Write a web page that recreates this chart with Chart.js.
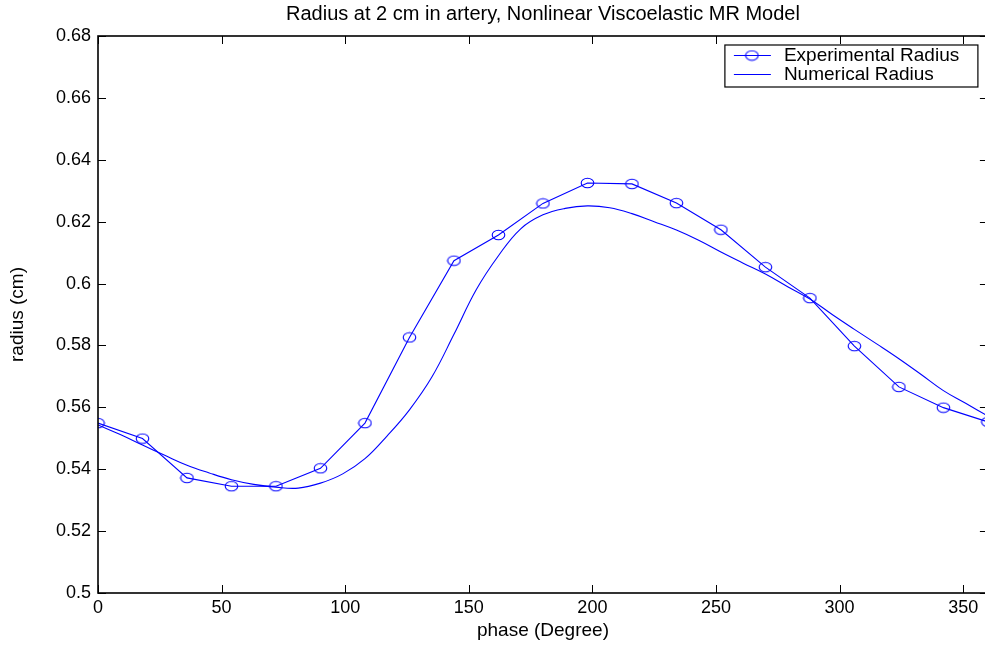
<!DOCTYPE html>
<html lang="en">
<head>
<meta charset="UTF-8">
<title>Radius at 2 cm in artery</title>
<script src="https://cdn.jsdelivr.net/npm/chart.js"></script>
<style>
  body { margin: 0; background: #fff; overflow: hidden; }
</style>
</head>
<body>
<canvas id="graficoRaio" width="995" height="647"></canvas>

<script>
// pontos medidos (circulos)
const phaseExp = [0, 18, 36, 54, 72, 90, 108, 126, 144, 162, 180, 198, 216, 234, 252, 270, 288, 306, 324, 342, 360];
const radiusExp = [0.5549, 0.5499, 0.5372, 0.5345, 0.5345, 0.5403, 0.5549, 0.5826, 0.6074, 0.6157, 0.6259, 0.6325, 0.6322, 0.6260, 0.6174, 0.6053, 0.5953, 0.5798, 0.5666, 0.5599, 0.5553];

// curva do modelo
const phaseNum = [0, 9, 18, 27, 36, 45, 54, 63, 72, 81, 90, 99, 108, 117, 126, 135, 144, 153, 162, 171, 180,
                  189, 198, 207, 216, 225, 234, 243, 252, 261, 270, 279, 288, 297, 306, 315, 324, 333, 342, 351, 360];
const radiusNum = [0.5543, 0.5512, 0.5478, 0.5445, 0.5413, 0.5388, 0.5366, 0.5351, 0.5342, 0.5339, 0.5355, 0.5385, 0.5434, 0.5508, 0.5592, 0.5697, 0.5836, 0.5980, 0.6090, 0.6177, 0.6222,
                   0.6243, 0.6251, 0.6245, 0.6226, 0.6200, 0.6173, 0.6140, 0.6102, 0.6066, 0.6031, 0.5990, 0.5950, 0.5900, 0.5852, 0.5805, 0.5757, 0.5706, 0.5654, 0.5613, 0.5572];

const xTicks = [0, 50, 100, 150, 200, 250, 300, 350];
const yTicks = [0.5, 0.52, 0.54, 0.56, 0.58, 0.6, 0.62, 0.64, 0.66, 0.68];

const azul = '#0000ff';
const fonte = "'Liberation Sans', Arial, sans-serif";

// circulo achatado igual ao marcador 'o' do matlab
function criarMarcador() {
    const c = document.createElement('canvas');
    c.width = 15;
    c.height = 12;
    const g = c.getContext('2d');
    g.strokeStyle = azul;
    g.lineWidth = 1.1;
    g.beginPath();
    g.ellipse(7.5, 6, 6.3, 4.8, 0, 0, Math.PI * 2);
    g.stroke();
    return c;
}
const marcador = criarMarcador();

// caixa dos eixos com ticks para dentro + legenda
const caixaEixos = {
    id: 'caixaEixos',
    afterDraw(chart) {
        const ctx = chart.ctx;
        const area = chart.chartArea;
        const x = chart.scales.x;
        const y = chart.scales.y;
        const tam = 8;

        ctx.save();
        ctx.strokeStyle = '#000';
        ctx.lineWidth = 1;
        ctx.beginPath();
        x.ticks.forEach(function (t) {
            const px = Math.round(x.getPixelForValue(t.value)) + 0.5;
            ctx.moveTo(px, area.bottom);
            ctx.lineTo(px, area.bottom - tam);
            ctx.moveTo(px, area.top);
            ctx.lineTo(px, area.top + tam);
        });
        y.ticks.forEach(function (t) {
            const py = Math.round(y.getPixelForValue(t.value)) + 0.5;
            ctx.moveTo(area.left, py);
            ctx.lineTo(area.left + tam, py);
            ctx.moveTo(area.right, py);
            ctx.lineTo(area.right - tam, py);
        });
        ctx.stroke();

        ctx.lineWidth = 1.6;
        ctx.strokeRect(area.left, area.top, area.right - area.left, area.bottom - area.top);

        // legenda
        const lx = area.right - 263;
        const ly = area.top + 9;
        const lw = 253;
        const lh = 42;
        ctx.fillStyle = '#fff';
        ctx.fillRect(lx, ly, lw, lh);
        ctx.lineWidth = 1.2;
        ctx.strokeRect(lx, ly, lw, lh);

        const linhas = [chart.data.datasets[0], chart.data.datasets[1]];
        ctx.font = '19px ' + fonte;
        ctx.textBaseline = 'middle';
        linhas.forEach(function (ds, i) {
            const cy = Math.round(ly + 10 + i * 18.5) + 0.5;
            ctx.strokeStyle = azul;
            ctx.lineWidth = 1;
            ctx.beginPath();
            ctx.moveTo(lx + 9, cy);
            ctx.lineTo(lx + 46, cy);
            ctx.stroke();
            if (i === 0) {
                ctx.drawImage(marcador, lx + 27 - 7.5, cy - 6);
            }
            ctx.fillStyle = '#000';
            ctx.fillText(ds.label, lx + 59, cy);
        });
        ctx.restore();
    }
};

Chart.defaults.font.family = fonte;
Chart.defaults.color = '#000';

const graficoRaio = document.getElementById('graficoRaio');

new Chart(graficoRaio, {
    type: 'line',
    data: {
        datasets: [
            {
                label: 'Experimental Radius',
                data: phaseExp.map(function (p, i) { return { x: p, y: radiusExp[i] }; }),
                borderColor: azul,
                borderWidth: 1.1,
                tension: 0,
                pointStyle: marcador,
                pointRadius: 6,
                pointHoverRadius: 6,
                fill: false
            },
            {
                label: 'Numerical Radius',
                data: phaseNum.map(function (p, i) { return { x: p, y: radiusNum[i] }; }),
                borderColor: azul,
                borderWidth: 1.1,
                tension: 0.4,
                pointRadius: 0,
                fill: false
            }
        ]
    },
    options: {
        responsive: false,
        animation: false,
        devicePixelRatio: 1,
        layout: { padding: { left: 0, right: 5, top: 0, bottom: 0 } },
        scales: {
            x: {
                type: 'linear',
                min: 0,
                max: 360,
                grid: { display: false, drawTicks: false },
                border: { display: false },
                afterBuildTicks: function (scale) {
                    scale.ticks = xTicks.map(function (v) { return { value: v }; });
                },
                afterFit: function (scale) { scale.height = 54; },
                ticks: {
                    padding: 4,
                    font: { size: 18 },
                    maxRotation: 0,
                    callback: function (v) { return String(v); }
                },
                title: {
                    display: true,
                    text: 'phase (Degree)',
                    font: { size: 19 },
                    padding: { top: 0, bottom: 4.6 }
                }
            },
            y: {
                type: 'linear',
                min: 0.5,
                max: 0.68,
                grid: { display: false, drawTicks: false },
                border: { display: false },
                afterBuildTicks: function (scale) {
                    scale.ticks = yTicks.map(function (v) { return { value: v }; });
                },
                afterFit: function (scale) { scale.width = 98; },
                ticks: {
                    padding: 7,
                    font: { size: 18 },
                    callback: function (v) { return String(+v.toFixed(2)); }
                },
                title: {
                    display: true,
                    text: 'radius (cm)',
                    font: { size: 19 },
                    padding: { top: 6, bottom: 0 }
                }
            }
        },
        plugins: {
            legend: { display: false },
            tooltip: { enabled: false },
            title: {
                display: true,
                fullSize: false,
                text: 'Radius at 2 cm in artery, Nonlinear Viscoelastic MR Model',
                font: { size: 20, weight: 'normal' },
                lineHeight: 1.15,
                padding: { top: 2, bottom: 10 }
            }
        }
    },
    plugins: [caixaEixos]
});
</script>
</body>
</html>
